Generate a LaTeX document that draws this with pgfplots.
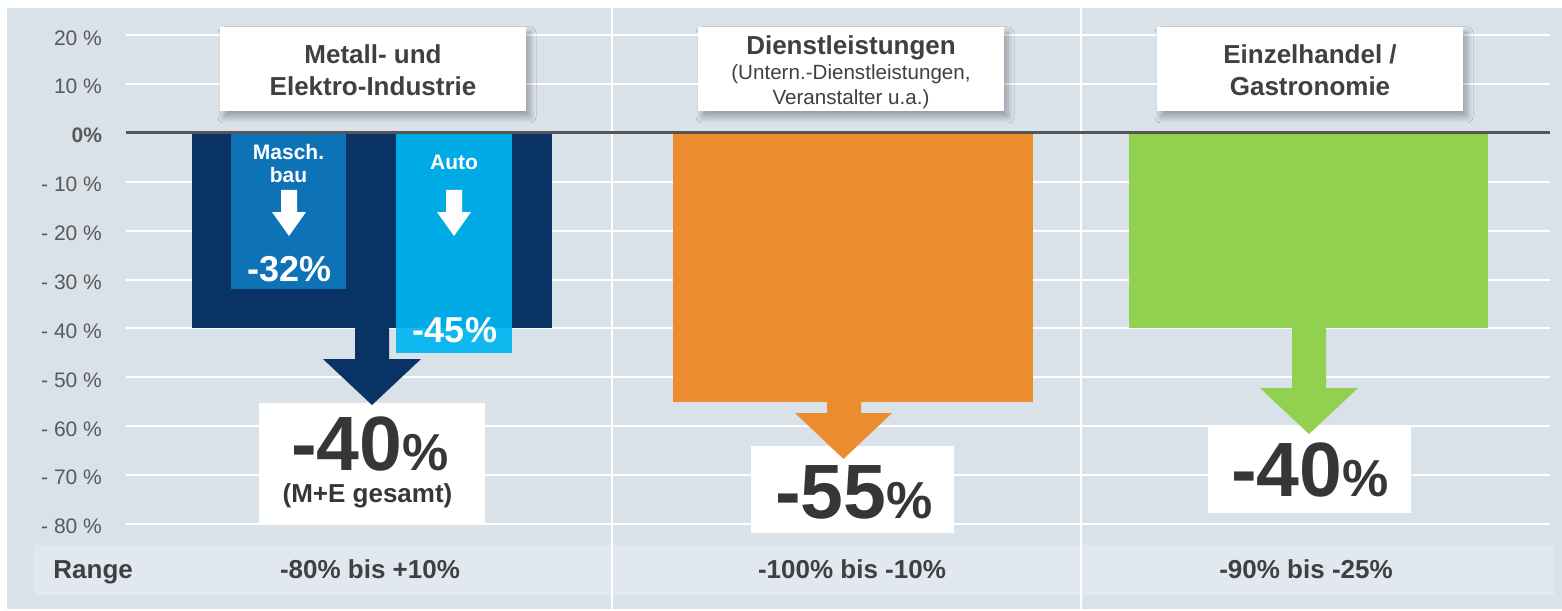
\documentclass[border=0pt]{standalone}
\usepackage{pgfplots}
\pgfplotsset{compat=1.18}
\usepackage{fontspec}
\setmainfont{Liberation Sans}
\usetikzlibrary{shadows.blur}

\definecolor{panel}{HTML}{D9E1E9}
\definecolor{band}{HTML}{E2E8EF}
\definecolor{navy}{HTML}{083364}
\definecolor{masch}{HTML}{0E72B6}
\definecolor{autoc}{HTML}{00B5F0}
\definecolor{dlorange}{HTML}{EB8D2E}
\definecolor{ehgreen}{HTML}{92D050}
\definecolor{txt}{HTML}{404040}
\definecolor{bigtxt}{HTML}{363636}
\definecolor{tickc}{HTML}{595959}
\definecolor{zeroc}{HTML}{555555}

% x runs in pixels of the slide, y in percent
\begin{document}
\begin{tikzpicture}
\begin{axis}[
  scale only axis,
  width=781pt, height=304.5pt,
  xmin=0, xmax=1562,
  ymin=-97.40, ymax=27.215,
  clip=false,
  axis background/.style={fill=panel},
  axis line style={draw=none},
  tick style={draw=none},
  major tick length=0pt,
  xtick=\empty,
  ytick={-80,-70,-60,-50,-40,-30,-20,-10,0,10,20},
  yticklabels={- 80 \%,- 70 \%,- 60 \%,- 50 \%,- 40 \%,- 30 \%,- 20 \%,- 10 \%,\textbf{0\%},10 \%,20 \%},
  yticklabel style={font=\fontsize{10.5}{12}\selectfont, text=tickc, anchor=east, xshift=54.5pt, yshift=-1.3pt},
]
% white margin, range band, grid
\fill[white] (axis cs:0,27.215) rectangle (axis cs:1562,25.58);
\fill[white] (axis cs:0,27.215) rectangle (axis cs:7,-97.40);
\fill[band] (axis cs:34,-84.31) rectangle (axis cs:1554,-94.54);
\pgfplotsinvokeforeach{20,10,-10,-20,-30,-40,-50,-60,-70,-80}{
  \draw[white, line width=1pt] (axis cs:126,#1) -- (axis cs:1550,#1);
}
\draw[white, line width=1pt] (axis cs:612,25.58) -- (axis cs:612,-97.40);
\draw[white, line width=1pt] (axis cs:1081,25.58) -- (axis cs:1081,-97.40);

% title boxes
\tikzset{titlebox/.style={fill=white, blur shadow={shadow xshift=2pt, shadow yshift=-3pt, shadow blur radius=3pt, shadow blur steps=8, shadow opacity=30}}}
\fill[titlebox] (axis cs:220,21.69) rectangle (axis cs:526,4.50);
\fill[titlebox] (axis cs:698,21.69) rectangle (axis cs:1004,4.50);
\fill[titlebox] (axis cs:1157,21.69) rectangle (axis cs:1463,4.50);

% bars
\addplot[ybar, bar width=360, bar shift=0pt, fill=navy, draw=none] coordinates {(372,-40)};
\addplot[ybar, bar width=115, bar shift=0pt, fill=masch, draw=none] coordinates {(288.5,-32)};
\addplot[ybar, bar width=116, bar shift=0pt, fill=autoc, fill opacity=0.92, draw=none] coordinates {(454,-45)};
\addplot[ybar, bar width=360, bar shift=0pt, fill=dlorange, draw=none] coordinates {(853,-55)};
\addplot[ybar, bar width=359, bar shift=0pt, fill=ehgreen, draw=none] coordinates {(1308.5,-40)};

% zero line
\draw[zeroc, line width=1.5pt] (axis cs:126,0) -- (axis cs:1550,0);

% result boxes
\fill[white] (axis cs:259,-55.25) rectangle (axis cs:485,-80.01);
\fill[white] (axis cs:751,-64.05) rectangle (axis cs:954,-81.85);
\fill[white] (axis cs:1208,-59.75) rectangle (axis cs:1411,-77.76);

% arrows
\fill[navy] (axis cs:355,-39.5) -- (axis cs:389,-39.5) -- (axis cs:389,-46.25) -- (axis cs:421,-46.25)
  -- (axis cs:372,-55.66) -- (axis cs:323,-46.25) -- (axis cs:355,-46.25) -- cycle;
\fill[dlorange] (axis cs:827,-54.5) -- (axis cs:861,-54.5) -- (axis cs:861,-57.3) -- (axis cs:892,-57.3)
  -- (axis cs:843.5,-66.7) -- (axis cs:795,-57.3) -- (axis cs:827,-57.3) -- cycle;
\fill[ehgreen] (axis cs:1292,-39.5) -- (axis cs:1326,-39.5) -- (axis cs:1326,-52.18) -- (axis cs:1358,-52.18)
  -- (axis cs:1309,-61.6) -- (axis cs:1260,-52.18) -- (axis cs:1292,-52.18) -- cycle;
\fill[white] (axis cs:281,-11.66) -- (axis cs:297,-11.66) -- (axis cs:297,-16.17) -- (axis cs:306,-16.17)
  -- (axis cs:289,-21.08) -- (axis cs:272,-16.17) -- (axis cs:281,-16.17) -- cycle;
\fill[white] (axis cs:446,-11.66) -- (axis cs:462,-11.66) -- (axis cs:462,-16.17) -- (axis cs:471,-16.17)
  -- (axis cs:454,-21.08) -- (axis cs:437,-16.17) -- (axis cs:446,-16.17) -- cycle;

% titles
\begin{scope}[every node/.style={anchor=base, inner sep=0pt, text=txt}]
\node[font=\bfseries\fontsize{13}{15}\selectfont] at (axis cs:373,14.32) {Metall- und};
\node[font=\bfseries\fontsize{13}{15}\selectfont] at (axis cs:373,7.57) {Elektro-Industrie};
\node[font=\bfseries\fontsize{13}{15}\selectfont] at (axis cs:851,16.10) {Dienstleistungen};
\node[font=\fontsize{10.3}{12}\selectfont] at (axis cs:851,10.85) {(Untern.-Dienstleistungen,};
\node[font=\fontsize{10.3}{12}\selectfont] at (axis cs:851,5.73) {Veranstalter u.a.)};
\node[font=\bfseries\fontsize{13}{15}\selectfont] at (axis cs:1310,14.32) {Einzelhandel /};
\node[font=\bfseries\fontsize{13}{15}\selectfont] at (axis cs:1310,7.57) {Gastronomie};
\end{scope}

% labels inside bars
\begin{scope}[every node/.style={anchor=base, inner sep=0pt, text=white}]
\node[font=\bfseries\fontsize{10.5}{12}\selectfont] at (axis cs:288.5,-5.52) {Masch.};
\node[font=\bfseries\fontsize{10.5}{12}\selectfont] at (axis cs:288.5,-10.17) {bau};
\node[font=\bfseries\fontsize{10.5}{12}\selectfont] at (axis cs:454,-7.57) {Auto};
\node[font=\bfseries\fontsize{18}{20}\selectfont] at (axis cs:289.5,-30.49) {-32\%};
\node[font=\bfseries\fontsize{18}{20}\selectfont] at (axis cs:455,-42.77) {-45\%};
\end{scope}

% result values
\begin{scope}[every node/.style={anchor=base, inner sep=0pt, text=bigtxt}]
\node[font=\bfseries\fontsize{38.5}{40}\selectfont] at (axis cs:370,-68.96) {-40{\fontsize{26}{28}\selectfont\%}};
\node[font=\bfseries\fontsize{13}{15}\selectfont] at (axis cs:367.5,-75.71) {(M+E gesamt)};
\node[font=\bfseries\fontsize{38.5}{40}\selectfont] at (axis cs:854,-78.78) {-55{\fontsize{26}{28}\selectfont\%}};
\node[font=\bfseries\fontsize{38.5}{40}\selectfont] at (axis cs:1310,-74.48) {-40{\fontsize{26}{28}\selectfont\%}};
\end{scope}

% range row
\begin{scope}[every node/.style={inner sep=0pt, text=txt, font=\bfseries\fontsize{13}{15}\selectfont}]
\node[anchor=base west] at (axis cs:53,-91.26) {Range};
\node[anchor=base] at (axis cs:370,-91.26) {-80\% bis +10\%};
\node[anchor=base] at (axis cs:852,-91.26) {-100\% bis -10\%};
\node[anchor=base] at (axis cs:1306,-91.26) {-90\% bis -25\%};
\end{scope}
\end{axis}
\end{tikzpicture}
\end{document}
